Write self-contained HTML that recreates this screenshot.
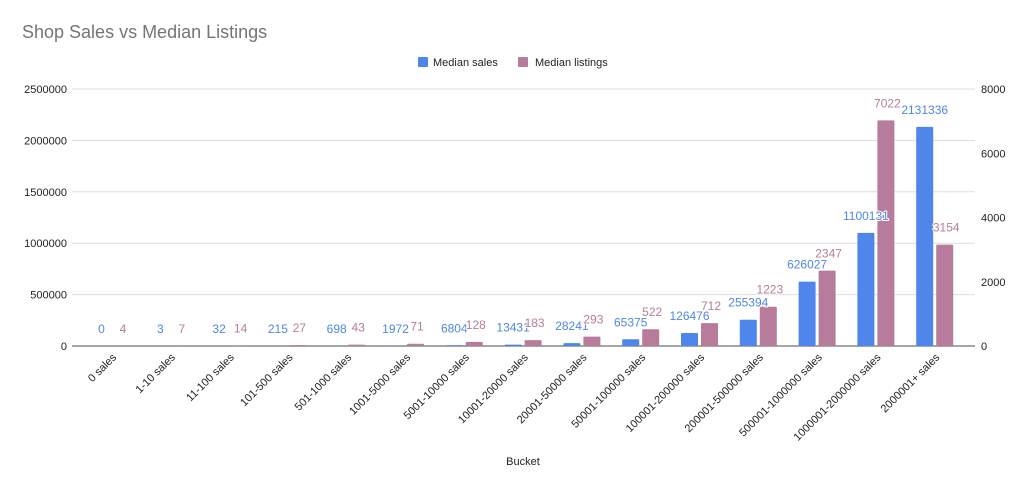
<!DOCTYPE html>
<html><head><meta charset="utf-8"><style>
html,body{margin:0;padding:0;background:#fff;}
svg{display:block;font-family:"Liberation Sans",Arial,sans-serif;}
</style></head><body>
<svg id="chart" width="1024" height="489">
<text x="22" y="38" font-size="18" fill="#757575">Shop Sales vs Median Listings</text>
<g>
<rect x="418" y="57" width="10" height="10" rx="1" fill="#4f86ec"/>
<text x="433" y="66" font-size="11" fill="#222">Median sales</text>
<rect x="518" y="57" width="10" height="10" rx="1" fill="#b77c9b"/>
<text x="535" y="66" font-size="11" fill="#222">Median listings</text>
</g>
<text x="523" y="465" font-size="11" fill="#222" text-anchor="middle">Bucket</text>
<g id="grid"></g><g id="bars"></g><g id="labels"></g>
</svg>
<script>
const categories=["0 sales","1-10 sales","11-100 sales","101-500 sales","501-1000 sales","1001-5000 sales","5001-10000 sales","10001-20000 sales","20001-50000 sales","50001-100000 sales","100001-200000 sales","200001-500000 sales","500001-1000000 sales","1000001-2000000 sales","2000001+ sales"];
const salesValues=[0,3,32,215,698,1972,6804,13431,28241,65375,126476,255394,626027,1100131,2131336];
const listingValues=[4,7,14,27,43,71,128,183,293,522,712,1223,2347,7022,3154];
const leftTicks=[0,500000,1000000,1500000,2000000,2500000];
const rightTicks=[0,2000,4000,6000,8000];
const NS="http://www.w3.org/2000/svg";
const plotTop=89,plotBottom=346,x0=82.6,band=58.8;
const yL=v=>plotBottom-(v/2500000)*(plotBottom-plotTop);
const yR=v=>plotBottom-(v/8000)*(plotBottom-plotTop);
const cx=i=>x0+band*(i+0.5);
function mk(tag,attrs,parent,txt){const e=document.createElementNS(NS,tag);for(const k in attrs)e.setAttribute(k,attrs[k]);if(txt!==undefined)e.textContent=txt;parent.appendChild(e);return e;}
const grid=document.getElementById('grid'),bars=document.getElementById('bars'),labels=document.getElementById('labels');
leftTicks.forEach(t=>{
 const l=mk('line',{x1:72,x2:975,y1:yL(t),y2:yL(t),stroke:t===0?'#888':'#ddd','stroke-width':t===0?1.5:1},grid);
 
 
 const tx=mk('text',{x:67,y:yL(t)+4,'font-size':11,fill:'#222','text-anchor':'end'},grid,String(t));
 
 
});
rightTicks.forEach(t=>{
 const tx=mk('text',{x:981,y:yR(t)+4,'font-size':11,fill:'#222'},grid,String(t));
 
 
});
categories.forEach((c,i)=>{
 const c0=cx(i);
 const ys=yL(salesValues[i]),yl=yR(listingValues[i]);
 const b1=mk('rect',{x:c0-19,y:ys,width:17,height:Math.max(plotBottom-ys,0),fill:'#4f86ec',rx:1},bars);
 
 
 const b2=mk('rect',{x:c0+1,y:yl,width:17,height:Math.max(plotBottom-yl,0),fill:'#b77c9b',rx:1},bars);
 
 
 const t1=mk('text',{x:c0-10.5,y:ys-13,'font-size':12,fill:'#4f86ec','text-anchor':'middle',stroke:'#fff','stroke-width':2,'paint-order':'stroke'},labels,String(salesValues[i]));
 
 
 const t2=mk('text',{x:c0+11,y:yl-13,'font-size':12,fill:'#b77c9b','text-anchor':'middle',stroke:'#fff','stroke-width':2,'paint-order':'stroke'},labels,String(listingValues[i]));
 
 
 const xl=mk('text',{x:c0+5,y:358,'font-size':11,fill:'#222','text-anchor':'end',transform:`rotate(-45 ${c0+5} 358)`},labels,c);
 
 
});
</script>
</body></html>
